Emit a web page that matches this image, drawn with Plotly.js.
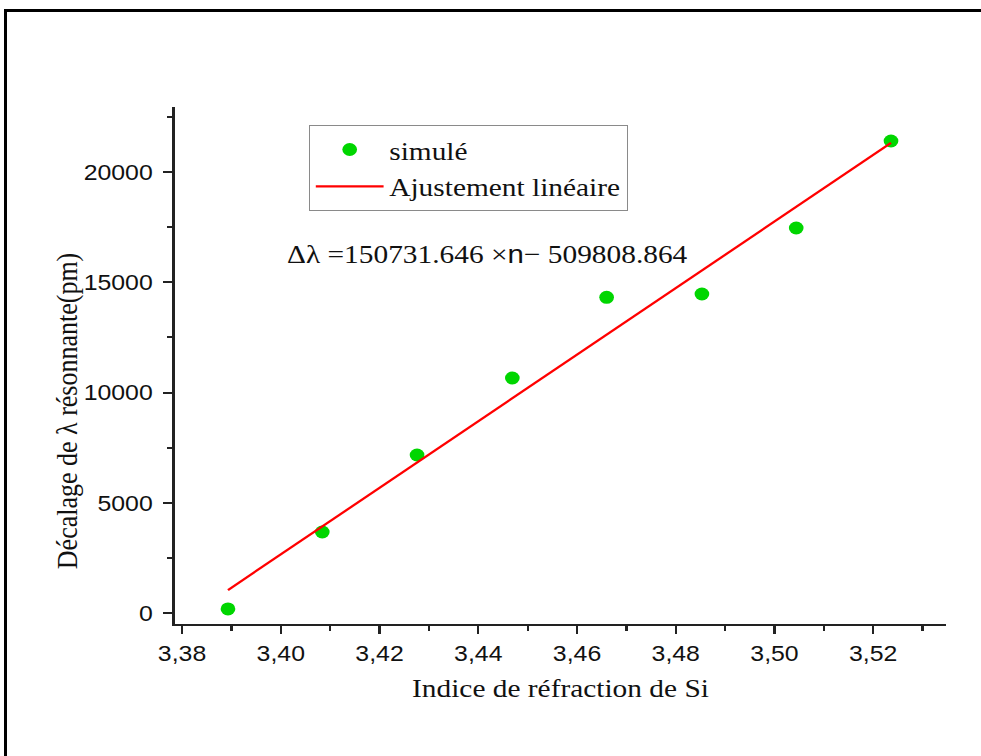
<!DOCTYPE html>
<html>
<head>
<meta charset="utf-8">
<script src="https://cdn.plot.ly/plotly-3.0.1.min.js"></script>
<style>
  html, body { margin: 0; padding: 0; background: #fff; overflow: hidden; }
  #frame { position: absolute; left: 4px; top: 9px; width: 990px; height: 760px;
           border-left: 3px solid #000; border-top: 3px solid #000; pointer-events: none; z-index: 5; }
  #plot { position: absolute; left: 0; top: 0; width: 868px; height: 756px;
          transform: scaleX(1.13); transform-origin: 0 0; }
</style>
</head>
<body>
<div id="plot"></div>
<div id="frame"></div>
<script>
// Data
var indexN   = [3.3893, 3.4084, 3.4276, 3.4469, 3.4660, 3.4853, 3.5044, 3.5236];
var shiftPm  = [200, 3685, 7174, 10664, 14321, 14471, 17462, 21405];
var fitN     = [3.3893, 3.5236];
var fitPm    = [1055, 21315];
var seriesNames = ['simulé', 'Ajustement linéaire'];
var xTitle = 'Indice de réfraction de Si';
var yTitle = 'Décalage de λ résonnante(pm)';
var equation = 'Δλ =150731.646 ×<span style="font-family:Arial">n</span>− 509808.864';

var serif = "Liberation Serif, Times New Roman, serif";
var sans = "Liberation Sans, Arial, sans-serif";

var traces = [
  {
    x: indexN, y: shiftPm, name: seriesNames[0], type: 'scatter', mode: 'markers',
    marker: { color: '#00d600', size: 13, line: { width: 0 } }
  },
  {
    x: fitN, y: fitPm, name: seriesNames[1], type: 'scatter', mode: 'lines',
    line: { color: '#ff0000', width: 2.2 }
  }
];

var axisCommon = {
  showgrid: false, zeroline: false, showline: true, linecolor: '#222', linewidth: 2.4,
  ticks: 'outside', ticklen: 8, tickwidth: 2, tickcolor: '#222',
  tickfont: { family: sans, size: 22, color: '#111' }
};

var layout = {
  width: 868, height: 756,
  margin: { l: 155, r: 31, t: 107, b: 132 },
  paper_bgcolor: '#fff', plot_bgcolor: '#fff',
  separators: ',.',
  showlegend: true,
  legend: {
    x: 0.1737, y: 0.965, xanchor: 'left', yanchor: 'top',
    bgcolor: '#fff', bordercolor: '#8a8a8a', borderwidth: 1,
    font: { family: serif, size: 26, color: '#111' },
    itemwidth: 60, tracegroupgap: 0
  },
  xaxis: Object.assign({}, axisCommon, {
    range: [3.3786, 3.5347], tick0: 3.38, dtick: 0.02, tickformat: '.2f',
    minor: { ticks: 'outside', dtick: 0.01, tick0: 3.38, ticklen: 5, tickwidth: 2, tickcolor: '#222' },
    title: { text: xTitle, font: { family: serif, size: 26, color: '#111' }, standoff: 14 }
  }),
  yaxis: Object.assign({}, axisCommon, {
    range: [-485, 22946], tick0: 0, dtick: 5000, tickformat: 'd',
    ticklabelstandoff: 5,
    minor: { ticks: 'outside', dtick: 2500, tick0: 0, ticklen: 5, tickwidth: 2, tickcolor: '#222' }
  }),
  annotations: [
    {
      text: equation, xref: 'paper', yref: 'paper', x: 0.1425, y: 0.7157,
      xanchor: 'left', yanchor: 'middle', showarrow: false,
      font: { family: serif, size: 26, color: '#111' }
    },
    {
      text: yTitle, xref: 'paper', yref: 'paper', x: -0.139, y: 0.412,
      xanchor: 'center', yanchor: 'middle', textangle: -90, showarrow: false,
      font: { family: serif, size: 26, color: '#111' }
    }
  ]
};

Plotly.newPlot('plot', traces, layout, { displayModeBar: false, staticPlot: true });
</script>
</body>
</html>
